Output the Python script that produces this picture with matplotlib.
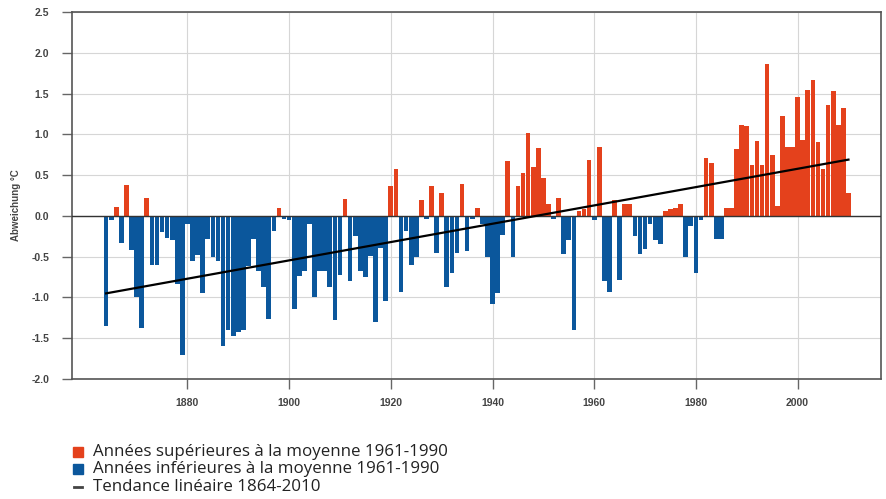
import matplotlib.pyplot as plt
from matplotlib.patches import Rectangle
from matplotlib.lines import Line2D

# Swiss temperature anomaly vs. 1961-1990 mean, 1864-2010
years = list(range(1864, 2011))
anomaly = [
    -1.35, -0.05, 0.11, -0.33, 0.38, -0.42,                             # 1864-1869
    -1.00, -1.38, 0.22, -0.60, -0.60, -0.20, -0.27, -0.30, -0.83, -1.70,  # 1870s
    -0.10, -0.55, -0.48, -0.95, -0.28, -0.50, -0.55, -1.60, -1.40, -1.47,  # 1880s
    -1.42, -1.40, -0.62, -0.28, -0.67, -0.87, -1.27, -0.19, 0.10, -0.04,  # 1890s
    -0.05, -1.14, -0.74, -0.67, -0.10, -1.00, -0.67, -0.67, -0.87, -1.28,  # 1900s
    -0.73, 0.21, -0.80, -0.25, -0.67, -0.75, -0.49, -1.30, -0.39, -1.04,  # 1910s
    0.37, 0.57, -0.93, -0.18, -0.60, -0.50, 0.20, -0.04, 0.37, -0.45,    # 1920s
    0.28, -0.87, -0.70, -0.45, 0.39, -0.43, -0.04, 0.10, -0.10, -0.50,   # 1930s
    -1.08, -0.95, -0.24, 0.67, -0.50, 0.37, 0.53, 1.02, 0.60, 0.83,      # 1940s
    0.47, 0.15, -0.04, 0.22, -0.47, -0.30, -1.40, 0.06, 0.08, 0.69,      # 1950s
    -0.05, 0.85, -0.80, -0.93, 0.19, -0.79, 0.14, 0.14, -0.25, -0.47,    # 1960s
    -0.40, -0.10, -0.30, -0.35, 0.06, 0.08, 0.10, 0.14, -0.50, -0.12,    # 1970s
    -0.70, -0.05, 0.71, 0.65, -0.28, -0.28, 0.10, 0.10, 0.82, 1.12,      # 1980s
    1.10, 0.63, 0.92, 0.63, 1.86, 0.75, 0.12, 1.23, 0.85, 0.85,          # 1990s
    1.46, 0.93, 1.54, 1.67, 0.90, 0.57, 1.36, 1.53, 1.12, 1.32, 0.28,    # 2000-2010
]
trend_years = [1864, 2010]
trend_values = [-0.95, 0.69]

x_ticks = [1880, 1900, 1920, 1940, 1960, 1980, 2000]
y_ticks = [-2.0, -1.5, -1.0, -0.5, 0.0, 0.5, 1.0, 1.5, 2.0, 2.5]
y_label = 'Abweichung °C'
legend_labels = ['Années supérieures à la moyenne 1961-1990',
                 'Années inférieures à la moyenne 1961-1990',
                 'Tendance linéaire 1864-2010']

red = '#e4411c'
blue = '#0b579c'
tick_font = ['Liberation Sans', 'DejaVu Sans']

fig = plt.figure(figsize=(8.86, 4.99), dpi=100)
ax = fig.add_axes([71.5 / 886, 1 - 379 / 499, (881 - 71.5) / 886, (379 - 12) / 499])

colors = [red if v > 0 else blue for v in anomaly]
ax.bar(years, anomaly, width=0.92, color=colors, zorder=2)
ax.axhline(0, color='#333333', lw=1.0, zorder=3)
ax.plot(trend_years, trend_values, color='black', lw=1.6, zorder=4)

ax.set_xlim(1857.2, 2016.4)
ax.set_ylim(-2.0, 2.5)
ax.set_xticks(x_ticks)
ax.set_yticks(y_ticks)
ax.set_yticklabels([f'{t:.1f}' for t in y_ticks])
ax.grid(color='#d6d6d6', lw=0.8)
ax.set_axisbelow(True)
ax.tick_params(direction='out', length=7, width=1, color='#666666',
               labelsize=7.5, labelcolor='#444444')
ax.tick_params(axis='x', pad=7)
ax.tick_params(axis='y', pad=9)
for lab in ax.get_xticklabels() + ax.get_yticklabels():
    lab.set_fontweight('bold')
    lab.set_family(tick_font)
for s in ax.spines.values():
    s.set_color('#555555')
    s.set_linewidth(1.2)

fig.text(16 / 886, 1 - 205 / 499, y_label, rotation=90, ha='center', va='center',
         fontsize=7, fontweight='bold', color='#444444', family=tick_font)

# legend below the chart
legend_y = [451.7, 469.2, 487.0]
for y, c in zip(legend_y[:2], [red, blue]):
    fig.patches.append(Rectangle((73 / 886, 1 - (y + 5) / 499), 10 / 886, 10 / 499,
                                 transform=fig.transFigure, color=c, figure=fig))
fig.lines.append(Line2D([74 / 886, 82 / 886], [1 - legend_y[2] / 499] * 2,
                        transform=fig.transFigure, color='#444444', lw=2, figure=fig))
for y, txt in zip(legend_y, legend_labels):
    fig.text(93 / 886, 1 - y / 499, txt, ha='left', va='center', fontsize=12.2,
             family=['Open Sans', 'DejaVu Sans'], color='#222222')

fig.savefig('out.png', dpi=100)
